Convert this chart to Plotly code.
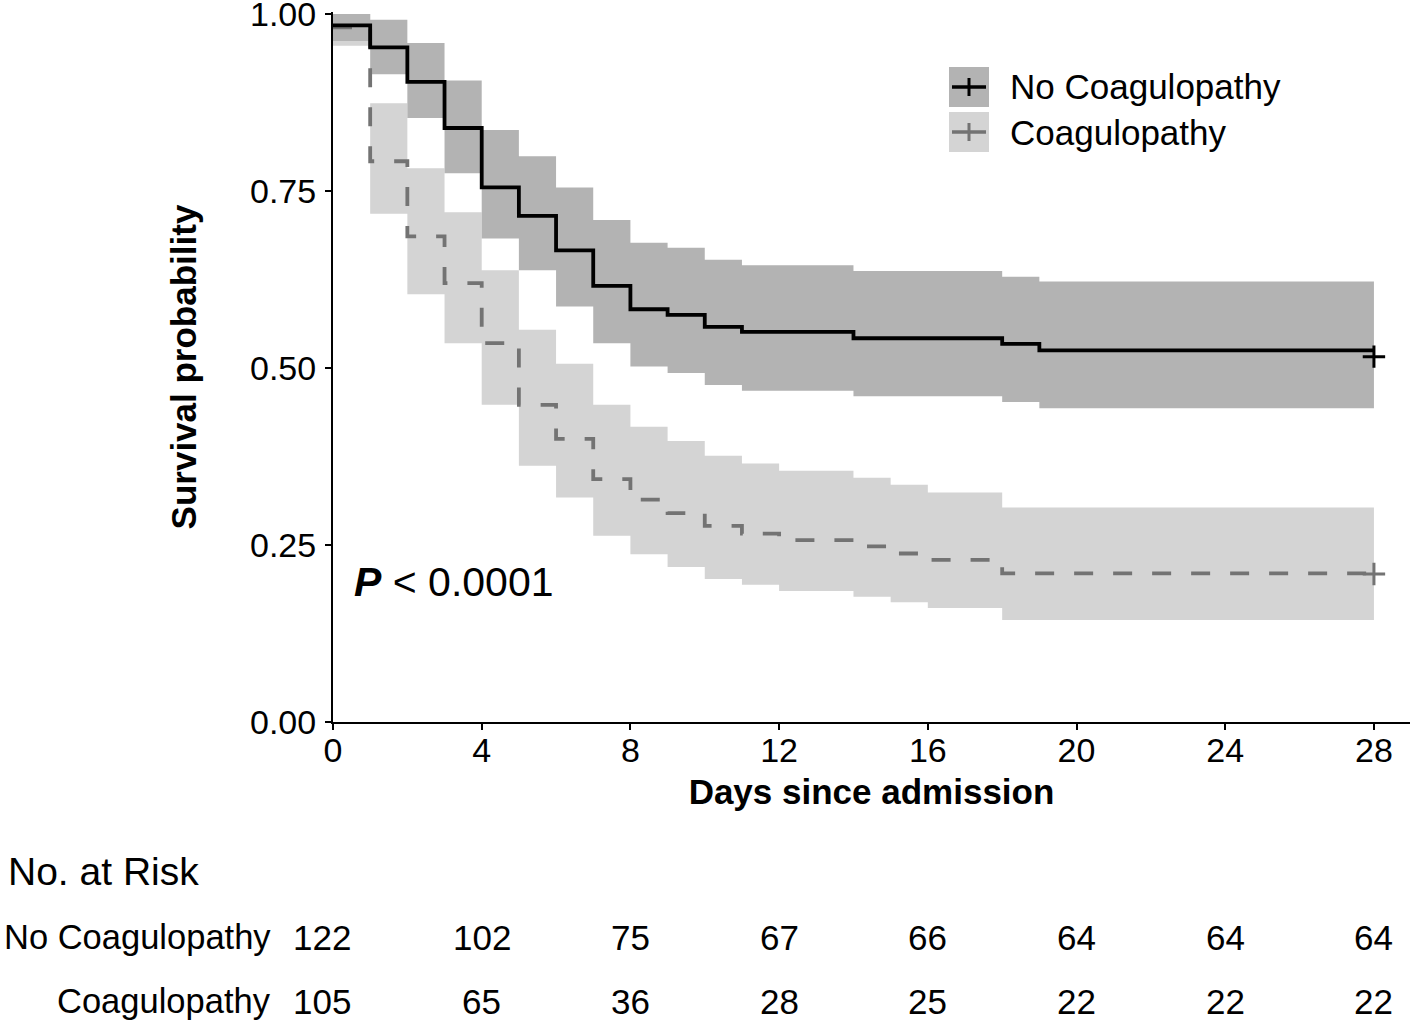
import plotly.graph_objects as go

# ---------------- data ----------------
nc_time = [0, 1, 2, 3, 4, 5, 6, 7, 8, 9, 10, 11, 14, 18, 19, 28]
nc_surv = [0.984, 0.953, 0.904, 0.839, 0.755, 0.715, 0.666, 0.616, 0.583, 0.575,
           0.558, 0.551, 0.542, 0.534, 0.525, 0.525]
nc_upper = [1.0, 0.992, 0.959, 0.906, 0.836, 0.799, 0.755, 0.709, 0.677, 0.670,
            0.653, 0.645, 0.637, 0.629, 0.622, 0.622]
nc_lower = [0.962, 0.915, 0.853, 0.775, 0.683, 0.638, 0.587, 0.535, 0.502, 0.493,
            0.476, 0.468, 0.460, 0.452, 0.443, 0.443]

c_time = [0, 1, 2, 3, 4, 5, 6, 7, 8, 9, 10, 11, 12, 14, 15, 16, 18, 28]
c_surv = [0.981, 0.792, 0.686, 0.620, 0.535, 0.448, 0.400, 0.343, 0.314, 0.295,
          0.277, 0.266, 0.257, 0.248, 0.238, 0.229, 0.210, 0.210]
c_upper = [1.0, 0.874, 0.782, 0.720, 0.638, 0.554, 0.506, 0.448, 0.417, 0.397,
           0.376, 0.365, 0.355, 0.345, 0.335, 0.324, 0.303, 0.303]
c_lower = [0.955, 0.718, 0.604, 0.535, 0.448, 0.362, 0.317, 0.263, 0.237, 0.219,
           0.202, 0.194, 0.185, 0.177, 0.169, 0.161, 0.144, 0.144]

# censor marks (time, survival)
nc_censor = (28, 0.516)
c_censor = (28, 0.209)

groups = ["No Coagulopathy", "Coagulopathy"]
risk_days = [0, 4, 8, 12, 16, 20, 24, 28]
risk_nc = [122, 102, 75, 67, 66, 64, 64, 64]
risk_c = [105, 65, 36, 28, 25, 22, 22, 22]

y_ticks = [0, 0.25, 0.5, 0.75, 1.0]
x_ticks = [0, 4, 8, 12, 16, 20, 24, 28]

# ---------------- styles ----------------
FONT = "Liberation Sans, Arial, sans-serif"
DARK_BAND = "#b3b3b3"
LIGHT_BAND = "#d4d4d4"
NC_LINE = "#000000"
C_LINE = "#737373"

W, H = 1416, 1024
L, R, T, B = 333, 6, 12, 302
PW, PH = W - L - R, H - T - B


def px(xp):
    return (xp - L) / PW


def py(yp):
    return (H - B - yp) / PH


fig = go.Figure()

# confidence bands (light first, dark on top)
for t, lo, up, col in [(c_time, c_lower, c_upper, LIGHT_BAND),
                       (nc_time, nc_lower, nc_upper, DARK_BAND)]:
    fig.add_trace(go.Scatter(x=t, y=lo, mode="lines", line=dict(width=0, shape="hv"),
                             showlegend=False, hoverinfo="skip"))
    fig.add_trace(go.Scatter(x=t, y=up, mode="lines", line=dict(width=0, shape="hv"),
                             fill="tonexty", fillcolor=col, showlegend=False, hoverinfo="skip"))

# survival curves
fig.add_trace(go.Scatter(x=c_time, y=c_surv, mode="lines",
                         line=dict(color=C_LINE, width=3.8, shape="hv", dash="19px,20px"),
                         name=groups[1], showlegend=False))
fig.add_trace(go.Scatter(x=nc_time, y=nc_surv, mode="lines",
                         line=dict(color=NC_LINE, width=3.8, shape="hv"),
                         name=groups[0], showlegend=False))

# censor marks at the end
fig.add_trace(go.Scatter(x=[nc_censor[0]], y=[nc_censor[1]], mode="markers",
                         marker=dict(symbol="cross-thin", size=16,
                                     line=dict(color=NC_LINE, width=3)),
                         showlegend=False))
fig.add_trace(go.Scatter(x=[c_censor[0]], y=[c_censor[1]], mode="markers",
                         marker=dict(symbol="cross-thin", size=16,
                                     line=dict(color=C_LINE, width=3)),
                         showlegend=False))

shapes = []
annotations = []

# manual legend
for i, (band, lc, label) in enumerate([(DARK_BAND, NC_LINE, groups[0]),
                                       (LIGHT_BAND, C_LINE, groups[1])]):
    top = 67 + i * 45
    bot = top + 40
    cy = (top + bot) / 2
    shapes.append(dict(type="rect", xref="paper", yref="paper",
                       x0=px(949), x1=px(989), y0=py(bot), y1=py(top),
                       fillcolor=band, line=dict(width=0), layer="above"))
    shapes.append(dict(type="line", xref="paper", yref="paper",
                       x0=px(952), x1=px(986), y0=py(cy), y1=py(cy),
                       line=dict(color=lc, width=3.5), layer="above"))
    shapes.append(dict(type="line", xref="paper", yref="paper",
                       x0=px(969), x1=px(969), y0=py(cy - 9), y1=py(cy + 9),
                       line=dict(color=lc, width=3), layer="above"))
    annotations.append(dict(x=px(1008), y=py(cy), xref="paper", yref="paper",
                            text=label, showarrow=False, xanchor="left", yanchor="middle",
                            font=dict(family=FONT, size=35, color="black")))

# p-value
annotations.append(dict(x=px(352), y=py(582), xref="paper", yref="paper",
                        text="<b><i>P</i></b> < 0.0001", showarrow=False,
                        xanchor="left", yanchor="middle",
                        font=dict(family=FONT, size=41, color="black")))

# risk table
annotations.append(dict(x=px(6), y=py(871), xref="paper", yref="paper",
                        text="No. at Risk", showarrow=False, xanchor="left", yanchor="middle",
                        font=dict(family=FONT, size=39, color="black")))
for label, counts, yp in [(groups[0], risk_nc, 937), (groups[1], risk_c, 1001)]:
    annotations.append(dict(x=px(273), y=py(yp), xref="paper", yref="paper",
                            text=label, showarrow=False, xanchor="right", yanchor="middle",
                            font=dict(family=FONT, size=34.5, color="black")))
    for d, n in zip(risk_days, counts):
        annotations.append(dict(x=d, y=py(yp), xref="x", yref="paper",
                                text=str(n), showarrow=False, xanchor="center", yanchor="middle",
                                xshift=-11 if d == 0 else 0,
                                font=dict(family=FONT, size=35, color="black")))

fig.update_layout(
    width=W, height=H,
    margin=dict(l=L, r=R, t=T, b=B, pad=0, autoexpand=False),
    paper_bgcolor="white", plot_bgcolor="white",
    showlegend=False,
    font=dict(family=FONT, size=34, color="black"),
    shapes=shapes, annotations=annotations,
    xaxis=dict(range=[0, 28.97], tickvals=x_ticks, ticks="outside", ticklen=6,
               tickwidth=2, tickcolor="black", showline=True, linecolor="black",
               linewidth=2, showgrid=False, zeroline=False, ticklabelstandoff=-9,
               automargin=False,
               tickfont=dict(family=FONT, size=34, color="black"),
               title=dict(text="<b>Days since admission</b>", standoff=12,
                          font=dict(family=FONT, size=35, color="black"))),
    yaxis=dict(range=[0, PH / 708], tickvals=y_ticks, tickformat=".2f", ticks="outside",
               ticklen=6, tickwidth=2, tickcolor="black", showline=True,
               linecolor="black", linewidth=2, showgrid=False, zeroline=False,
               ticklabeloverflow="allow", ticklabelstandoff=2, automargin=False,
               tickfont=dict(family=FONT, size=34, color="black"),
               title=dict(text="<b>Survival probability</b>", standoff=43,
                          font=dict(family=FONT, size=35, color="black"))),
)

fig.write_html(
    "out.html",
    config={"displayModeBar": False},
    post_script="document.body.style.margin='0';document.body.style.overflow='hidden';",
)
